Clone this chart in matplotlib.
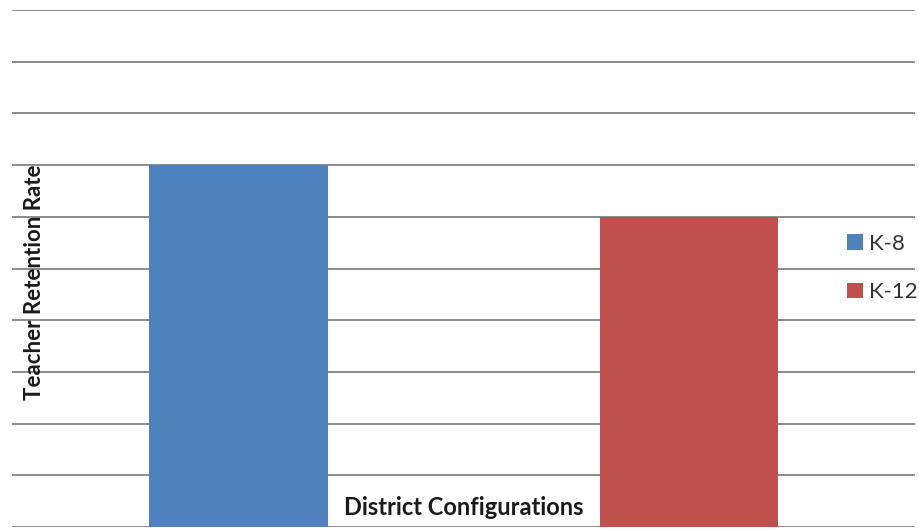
import matplotlib
matplotlib.use("Agg")
import matplotlib.pyplot as plt
from matplotlib.patches import Patch

series = ["K-8", "K-12"]
values = [0.7, 0.6]
colors = ["#4F81BD", "#C0504D"]
y_ticks = [0.0, 0.1, 0.2, 0.3, 0.4, 0.5, 0.6, 0.7, 0.8, 0.9, 1.0]

plt.rcParams['font.family'] = ['Lato', 'DejaVu Sans']

fig = plt.figure(figsize=(9.2, 5.29), dpi=100)
ax = fig.add_axes([12/920, 2/529, 903/920, 517/529])

positions = list(range(len(series)))
for p, v, c, s in zip(positions, values, colors, series):
    ax.bar(p, v, width=0.397, color=c, label=s, zorder=2)

ax.set_ylim(0, 1.0)
ax.set_xlim(-0.503, 1.502)
ax.set_yticks(y_ticks)
ax.yaxis.grid(True, color="#8a8a8a", linewidth=1.4, zorder=0)
ax.set_axisbelow(True)
ax.tick_params(left=False, bottom=False, labelleft=False, labelbottom=False)
for sp in ax.spines.values():
    sp.set_visible(False)

ax.text(-0.452, 0.474, "Teacher Retention Rate", rotation=90, ha="center", va="center",
        fontsize=16, fontweight="bold", color="#1a1a1a", zorder=3,
        transform=ax.get_xaxis_transform())
ax.text(0.5, 0.037, "District Configurations", ha="center", va="center",
        fontsize=17, fontweight="bold", color="#1a1a1a", zorder=3,
        transform=ax.get_xaxis_transform())

handles = [Patch(facecolor=c, label=s) for c, s in zip(colors, series)]
leg = ax.legend(handles=handles, loc="center left", bbox_to_anchor=(0.925, 0.501),
                frameon=False, fontsize=16, handlelength=0.7, handleheight=0.7,
                handletextpad=0.3, labelspacing=1.3, borderaxespad=0, borderpad=0)
for t in leg.get_texts():
    t.set_color("#333333")

fig.savefig("out.png", dpi=100)
